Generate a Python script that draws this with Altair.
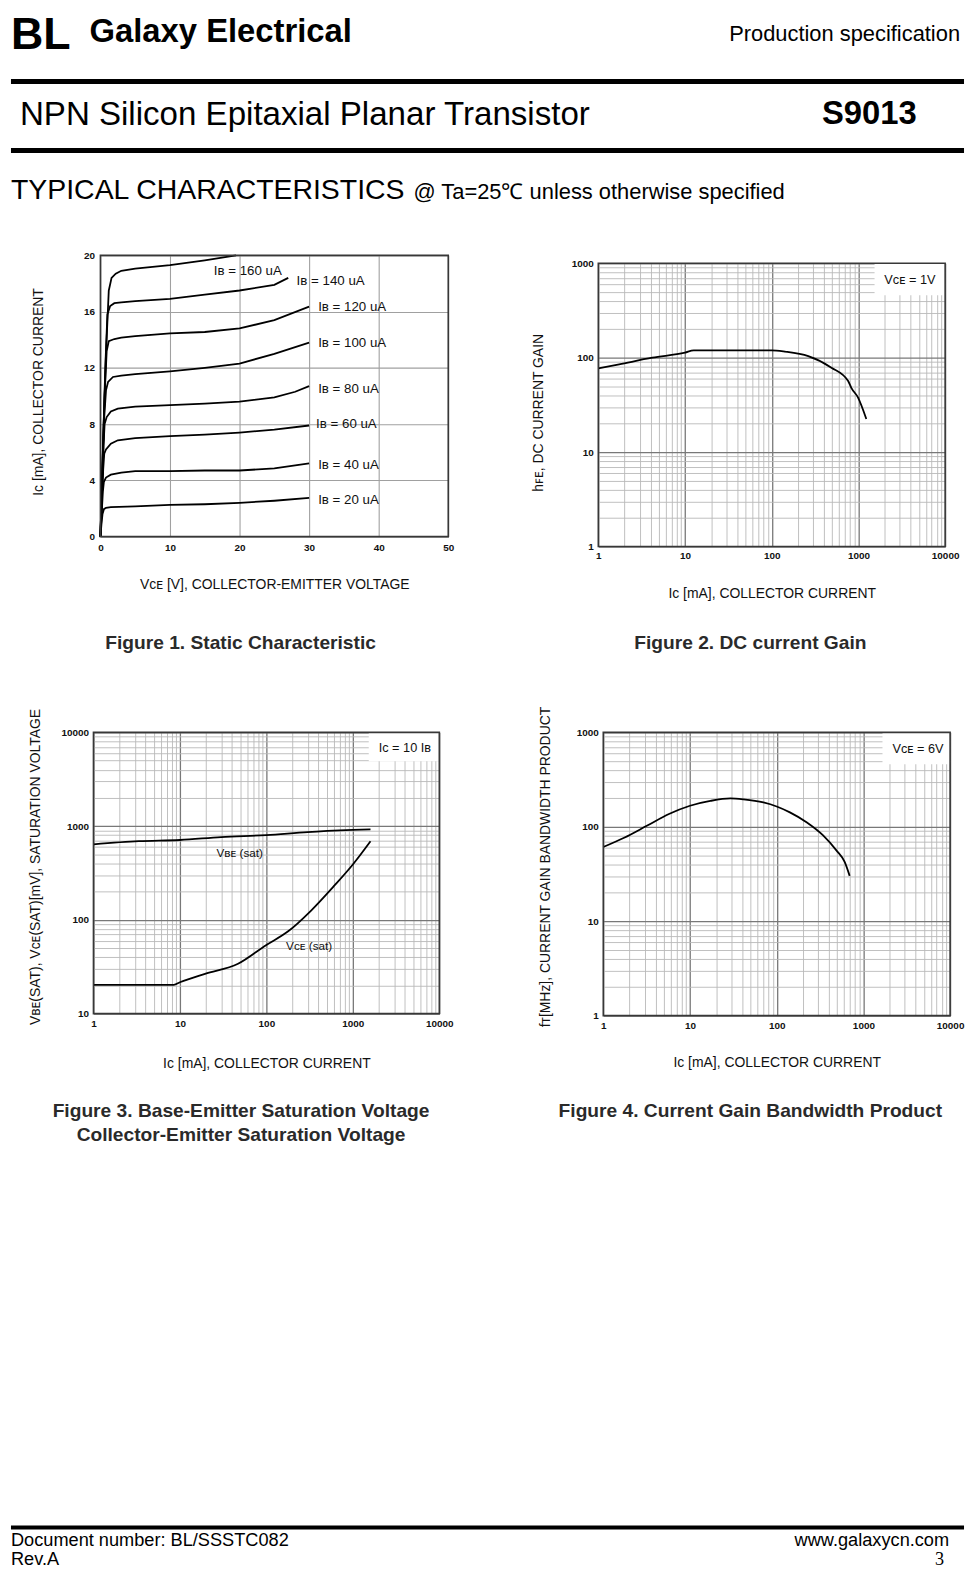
import altair as alt
import pandas as pd

FONT = "Liberation Sans"
SERIF = "Liberation Serif"
GRID1 = "#a0a0a0"
GRID_MINOR = "#b8b8b8"
GRID_MAJOR = "#787878"
FRAME = "#383838"
INK = "#111111"

# ---------------- Figure 1 : static characteristic ----------------
ib_names = ["20", "40", "60", "80", "100", "120", "140", "160"]
v_ib20 = [0, 0.15, 0.3, 0.5, 0.8, 1.5, 5, 10, 15, 20, 25, 30]
i_ib20 = [0, 0.9, 1.6, 1.95, 2.05, 2.1, 2.15, 2.25, 2.3, 2.4, 2.55, 2.75]
v_ib40 = [0, 0.2, 0.35, 0.5, 0.8, 1.5, 3, 5, 10, 15, 20, 25, 30]
i_ib40 = [0, 1.8, 3.2, 3.9, 4.2, 4.4, 4.55, 4.65, 4.65, 4.7, 4.7, 4.85, 5.2]
v_ib60 = [0, 0.2, 0.4, 0.55, 0.8, 1.5, 2.5, 5, 10, 15, 20, 25, 30]
i_ib60 = [0, 2.5, 4.8, 5.9, 6.2, 6.6, 6.85, 7.0, 7.15, 7.25, 7.4, 7.6, 7.9]
v_ib80 = [0, 0.25, 0.45, 0.6, 0.9, 1.5, 2.5, 5, 10, 15, 20, 25, 28, 30]
i_ib80 = [0, 3.5, 6.5, 8.0, 8.5, 8.9, 9.1, 9.25, 9.35, 9.45, 9.6, 9.9, 10.3, 10.7]
v_ib100 = [0, 0.3, 0.55, 0.8, 1.1, 1.8, 3, 5, 10, 15, 20, 25, 30]
i_ib100 = [0, 4.5, 8.5, 10.4, 11.0, 11.35, 11.45, 11.55, 11.75, 12.0, 12.3, 13.0, 13.8]
v_ib120 = [0, 0.3, 0.6, 0.9, 1.2, 2, 3, 5, 10, 15, 20, 25, 30]
i_ib120 = [0, 5, 10, 13.2, 13.9, 14.05, 14.15, 14.25, 14.45, 14.55, 14.8, 15.4, 16.35]
v_ib140 = [0, 0.35, 0.7, 1.0, 1.4, 2, 3, 5, 10, 15, 20, 25, 27]
i_ib140 = [0, 6, 12, 15.8, 16.4, 16.6, 16.65, 16.75, 16.9, 17.2, 17.5, 17.9, 18.4]
v_ib160 = [0, 0.4, 0.8, 1.2, 1.6, 2.2, 3, 5, 10, 15, 19.5]
i_ib160 = [0, 7, 13, 17.5, 18.4, 18.7, 18.9, 19.05, 19.3, 19.65, 20.0]

fig1_label_text = ["Iʙ = 20 uA", "Iʙ = 40 uA", "Iʙ = 60 uA", "Iʙ = 80 uA",
                   "Iʙ = 100 uA", "Iʙ = 120 uA", "Iʙ = 140 uA", "Iʙ = 160 uA"]
fig1_label_v = [31.3, 31.3, 31.0, 31.3, 31.3, 31.3, 28.2, 16.3]
fig1_label_i = [2.6, 5.1, 8.0, 10.5, 13.8, 16.3, 18.2, 18.9]

# ---------------- Figure 2 : DC current gain ----------------
fig2_ic = [1, 1.74, 4.2, 10, 12.6, 100, 142, 264, 488, 758, 828, 987, 1233]
fig2_hfe = [77, 85, 100, 113, 119.5, 119.5, 116, 104, 78.5, 57, 48, 38, 22.4]

# ---------------- Figure 3 : saturation voltages ----------------
fig3_ic_vbe = [1, 3.35, 10, 30, 100, 300, 1000, 1600]
fig3_vbe = [640, 690, 711, 765, 803, 863, 910, 925]
fig3_ic_vce = [1, 8.5, 10, 19.5, 47, 100, 177, 327, 606, 1000, 1600]
fig3_vce = [20.3, 20.3, 21.6, 26.6, 34, 54, 75, 125, 230, 390, 690]

# ---------------- Figure 4 : gain bandwidth product ----------------
fig4_ic = [1, 1.74, 3.22, 5.72, 10, 17.2, 29.2, 41.5, 70.3, 100, 142, 221, 343, 488, 608, 694]
fig4_ft = [61, 76.4, 103, 136.5, 167, 188, 199.5, 195, 181, 164, 142, 111.6, 80.9, 56.2, 42.4, 30.2]

dummy = pd.DataFrame({"d": [0]})


def txt(s, x, y, size, weight="normal", align="left", font=FONT, color="#000000"):
    return alt.Chart(dummy).mark_text(
        text=s, align=align, baseline="alphabetic", fontSize=size, fontWeight=weight,
        font=font, color=color
    ).encode(x=alt.value(x), y=alt.value(y))


def hrule(y, w, sw):
    return alt.Chart(dummy).mark_rule(color="#000000", strokeWidth=sw).encode(
        x=alt.value(0), x2=alt.value(w), y=alt.value(y))


def cell(x0, x1, y0, y1):
    # invisible rectangle that fixes the panel's layout extent
    return alt.Chart(dummy).mark_rect(opacity=0).encode(
        x=alt.value(x0), x2=alt.value(x1), y=alt.value(y0), y2=alt.value(y1))


def spacer(w, h):
    return alt.Chart(dummy).mark_point(opacity=0).transform_filter("false").properties(width=w, height=h)


def log_values(lo, hi):
    vals = []
    d = lo
    while d < hi:
        for m in range(1, 10):
            vals.append(m * d)
        d *= 10
    vals.append(hi)
    return vals


def log_axis(lo, hi, title, **kw):
    decades = []
    d = lo
    while d <= hi:
        decades.append(d)
        d *= 10
    test = "indexof([%s], datum.value) >= 0" % ",".join(str(v) for v in decades)
    return alt.Axis(
        values=log_values(lo, hi),
        labelExpr=f"{test} ? format(datum.value, 'd') : ''",
        grid=True,
        gridColor={"condition": {"test": test, "value": GRID_MAJOR}, "value": GRID_MINOR},
        gridWidth={"condition": {"test": test, "value": 1.3}, "value": 0.9},
        labelOverlap=False, labelFlush=False, ticks=False, tickSize=0, domain=False,
        title=title, titleBaseline="alphabetic", **kw)


def frame(x0, x1, y0, y1):
    return alt.Chart(dummy).mark_rect(fill="transparent", stroke=FRAME, strokeWidth=1.6).encode(
        x=alt.datum(x0), x2=alt.datum(x1), y=alt.datum(y0), y2=alt.datum(y1))


def white_box(x0, x1, y0, y1):
    return alt.Chart(dummy).mark_rect(color="#ffffff").encode(
        x=alt.datum(x0), x2=alt.datum(x1), y=alt.datum(y0), y2=alt.datum(y1))


def note(s, x, y, size=12.8):
    return alt.Chart(dummy).mark_text(text=s, align="left", baseline="middle", fontSize=size,
                                      font=FONT, color=INK).encode(x=alt.datum(x), y=alt.datum(y))


def caption(s, x, y):
    return txt(s, x, y, 19.3, weight="bold", align="center", color="#2a2a2a")


# ---------------- header ----------------
W_ALL = 959
header = alt.layer(
    txt("BL", 0, 36, 45, weight="bold"),
    txt("Galaxy Electrical", 79, 29, 33, weight="bold"),
    txt("Production specification", 955, 28, 22, align="right"),
    hrule(69, W_ALL, 5),
    txt("NPN Silicon Epitaxial Planar Transistor", 9, 113, 33.3),
    txt("S9013", 816, 112, 33, weight="bold"),
    hrule(138.5, W_ALL, 5),
    txt("TYPICAL CHARACTERISTICS", 0, 187, 28.6),
    txt("@ Ta=25℃ unless otherwise specified", 405, 187, 22),
).properties(width=W_ALL, height=234)

# ---------------- Figure 1 ----------------
rows = []
for name, vs, cs in zip(ib_names,
                        [v_ib20, v_ib40, v_ib60, v_ib80, v_ib100, v_ib120, v_ib140, v_ib160],
                        [i_ib20, i_ib40, i_ib60, i_ib80, i_ib100, i_ib120, i_ib140, i_ib160]):
    for v, c in zip(vs, cs):
        rows.append({"IB": name, "V": v, "I": c})
fig1_df = pd.DataFrame(rows)
fig1_lab = pd.DataFrame({"t": fig1_label_text, "V": fig1_label_v, "I": fig1_label_i})

x1_scale = alt.Scale(domain=[0, 50], nice=False, zero=False)
y1_scale = alt.Scale(domain=[0, 20], nice=False, zero=False)
x1_axis = alt.Axis(values=list(range(0, 51, 5)), labelExpr="datum.value % 10 == 0 ? datum.label : ''",
                   grid=True, gridColor=GRID1, gridWidth=1.1, labelPadding=6, labelFlush=False,
                   labelOverlap=False, ticks=False, tickSize=0, domain=False,
                   title="Vᴄᴇ [V], COLLECTOR-EMITTER VOLTAGE", titleY=52, titleBaseline="alphabetic")
y1_axis = alt.Axis(values=list(range(0, 21)), labelExpr="datum.value % 2 == 0 ? datum.label : ''",
                   grid=True, gridColor=GRID1, gridWidth=1.1, labelPadding=6, labelOverlap=False,
                   ticks=False, tickSize=0, domain=False,
                   title="Iᴄ [mA], COLLECTOR CURRENT", titleX=-58.5, titleY=137,
                   titleAngle=270, titleBaseline="alphabetic")

fig1_lines = alt.Chart(fig1_df).mark_line(color="#000000", strokeWidth=1.8).encode(
    x=alt.X("V:Q", scale=x1_scale, axis=x1_axis),
    y=alt.Y("I:Q", scale=y1_scale, axis=y1_axis),
    detail="IB:N")
fig1_labels = alt.Chart(fig1_lab).mark_text(align="left", baseline="middle", fontSize=13.4,
                                            font=FONT, color=INK).encode(
    x="V:Q", y="I:Q", text="t:N")
fig1 = alt.layer(
    cell(-89, 410, -10, 440),
    fig1_lines, frame(0, 50, 0, 20), fig1_labels,
    caption("Figure 1. Static Characteristic", 141, 396.5),
).properties(width=350, height=283)

# ---------------- Figure 2 ----------------
fig2_df = pd.DataFrame({"Ic": fig2_ic, "hfe": fig2_hfe})
fig2 = alt.layer(
    cell(-91, 360, -7, 420),
    alt.Chart(fig2_df).mark_line(color="#000000", strokeWidth=1.8, interpolate="monotone").encode(
        x=alt.X("Ic:Q", scale=alt.Scale(type="log", domain=[1, 10000], nice=False),
                axis=log_axis(1, 10000, "Iᴄ [mA], COLLECTOR CURRENT", labelPadding=4, titleY=51)),
        y=alt.Y("hfe:Q", scale=alt.Scale(type="log", domain=[1, 1000], nice=False),
                axis=log_axis(1, 1000, "hꜰᴇ, DC CURRENT GAIN", labelPadding=5, titleX=-56.5,
                              titleY=150, titleAngle=270))),
    white_box(1535, 10000, 460, 1000),
    frame(1, 10000, 1, 1000),
    note("Vᴄᴇ = 1V", 1990, 662),
    caption("Figure 2. DC current Gain", 153, 388.5),
).properties(width=349, height=285)

# ---------------- Figure 3 ----------------
fig3_df = pd.concat([
    pd.DataFrame({"Ic": fig3_ic_vbe, "mv": fig3_vbe, "s": "VBE"}),
    pd.DataFrame({"Ic": fig3_ic_vce, "mv": fig3_vce, "s": "VCE"}),
])
fig3 = alt.layer(
    cell(-82, 418, -40, 768),
    alt.Chart(fig3_df).mark_line(color="#000000", strokeWidth=1.8, interpolate="monotone").encode(
        x=alt.X("Ic:Q", scale=alt.Scale(type="log", domain=[1, 10000], nice=False),
                axis=log_axis(1, 10000, "Iᴄ [mA], COLLECTOR CURRENT", labelPadding=5, titleY=54)),
        y=alt.Y("mv:Q", scale=alt.Scale(type="log", domain=[10, 10000], nice=False),
                axis=log_axis(10, 10000, "Vʙᴇ(SAT), Vᴄᴇ(SAT)[mV], SATURATION VOLTAGE", labelPadding=5,
                              titleX=-54, titleY=135, titleAngle=270)),
        detail="s:N"),
    white_box(1527, 10000, 4920, 10000),
    frame(1, 10000, 10, 10000),
    note("Iᴄ = 10 Iʙ", 1990, 6760),
    note("Vʙᴇ (sat)", 26.5, 520, 11.8),
    note("Vᴄᴇ (sat)", 169, 52.5, 11.8),
    caption("Figure 3. Base-Emitter Saturation Voltage", 148.5, 387),
    caption("Collector-Emitter Saturation Voltage", 148.5, 411),
).properties(width=348, height=283)

# ---------------- Figure 4 ----------------
fig4_df = pd.DataFrame({"Ic": fig4_ic, "ft": fig4_ft})
fig4 = alt.layer(
    cell(-95, 362, -40, 768),
    alt.Chart(fig4_df).mark_line(color="#000000", strokeWidth=1.8, interpolate="monotone").encode(
        x=alt.X("Ic:Q", scale=alt.Scale(type="log", domain=[1, 10000], nice=False),
                axis=log_axis(1, 10000, "Iᴄ [mA], COLLECTOR CURRENT", labelPadding=5, titleY=51)),
        y=alt.Y("ft:Q", scale=alt.Scale(type="log", domain=[1, 1000], nice=False),
                axis=log_axis(1, 1000, "fᴛ[MHz], CURRENT GAIN BANDWIDTH PRODUCT", labelPadding=5,
                              titleX=-54.5, titleY=135, titleAngle=270))),
    white_box(1660, 10000, 460, 1000),
    frame(1, 10000, 1, 1000),
    note("Vᴄᴇ = 6V", 2160, 661),
    caption("Figure 4. Current Gain Bandwidth Product", 148, 387),
).properties(width=349, height=285)

# ---------------- footer ----------------
footer = alt.layer(
    hrule(32, W_ALL, 4),
    txt("Document number: BL/SSSTC082", 0, 51, 18.3),
    txt("Rev.A", 0, 70, 18.3),
    txt("www.galaxycn.com", 944, 51, 18.3, align="right"),
    txt("3", 939, 70, 18.3, align="right", font=SERIF),
).properties(width=W_ALL, height=74)

row1 = alt.hconcat(spacer(1, 1), fig1, alt.vconcat(spacer(1, 1), fig2, spacing=0), spacing=0)
row2 = alt.hconcat(spacer(1, 1), fig3, fig4, spacing=0)

chart = alt.vconcat(
    header, row1, row2, footer, spacing=0,
).properties(padding=0, background="#ffffff").configure_view(stroke=None).configure_axis(
    labelFont=FONT, titleFont=FONT, labelFontSize=10, labelFontWeight="bold", labelColor=INK,
    titleFontSize=14, titleFontWeight="normal", titleColor=INK,
)

chart.save("out.html", embed_options={"renderer": "svg", "actions": False})
